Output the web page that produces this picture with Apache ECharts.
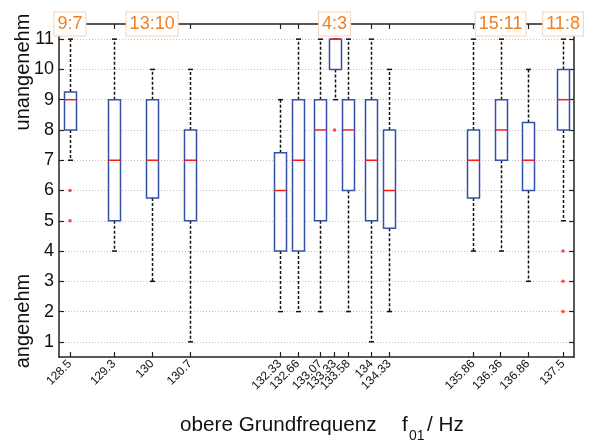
<!DOCTYPE html>
<html>
<head>
<meta charset="utf-8">
<script src="https://cdn.jsdelivr.net/npm/echarts@6/dist/echarts.min.js"></script>
<style>
  html, body { margin: 0; padding: 0; background: #fff; }
  #chart { width: 589px; height: 441px; }
</style>
</head>
<body>
<div id="chart"></div>
<script>
  // Werte
  var freqs = [128.5, 129.3, 130, 130.7, 132.33, 132.66, 133.07, 133.33, 133.58, 134, 134.33, 135.86, 136.36, 136.86, 137.5]
  var whiskerLow = [7, 4, 3, 1, 2, 2, 2, 9, 2, 1, 2, 4, 4, 3, 5]
  var q1 = [8, 5, 5.75, 5, 4, 4, 5, 10, 6, 5, 4.75, 5.75, 7, 6, 8]
  var median = [9, 7, 7, 7, 6, 7, 8, 11, 8, 7, 6, 7, 8, 7, 9]
  var q3 = [9.25, 9, 9, 8, 7.25, 9, 9, 11, 9, 9, 8, 8, 9, 8.25, 10]
  var whiskerHigh = [11, 11, 10, 10, 9, 11, 11, 11, 11, 11, 10, 11, 11, 10, 11]
  var outlierFreqs = [128.5, 128.5, 133.33, 137.5, 137.5, 137.5]
  var outlierValues = [6, 5, 8, 4, 3, 2]
  var ratioFreqs = [128.5, 130, 133.33, 136.36, 137.5]
  var ratioLabels = ['9:7', '13:10', '4:3', '15:11', '11:8']
  var yTicks = [1, 2, 3, 4, 5, 6, 7, 8, 9, 10, 11]

  var FONT = 'Liberation Sans, Arial, sans-serif'
  var Y_MIN = 0.5
  var Y_MAX = 11.5
  var BLUE = '#3352a8'
  var RED = '#ff1a1a'
  var ORANGE = '#f2801f'
  var AXIS = '#222'

  var boxData = freqs.map(function (f, i) {
    return [f, whiskerLow[i], q1[i], median[i], q3[i], whiskerHigh[i]]
  })
  var outlierData = outlierFreqs.map(function (f, i) { return [f, outlierValues[i]] })
  var ratioData = ratioFreqs.map(function (f, i) { return [f, ratioLabels[i]] })

  function renderBox (params, api) {
    var x = api.value(0)
    var lo = api.coord([x, api.value(1)])
    var b1 = api.coord([x, api.value(2)])
    var md = api.coord([x, api.value(3)])
    var b3 = api.coord([x, api.value(4)])
    var hi = api.coord([x, api.value(5)])
    var cx = Math.round(lo[0]) + 0.5
    var hw = 6
    var cw = 2.5
    var dash = { stroke: '#111', lineWidth: 1.5, lineDash: [3, 2], fill: null }
    var solid = { stroke: '#111', lineWidth: 1.5, fill: null }
    return {
      type: 'group',
      children: [
        { type: 'line', shape: { x1: cx, y1: b1[1], x2: cx, y2: lo[1] }, style: dash },
        { type: 'line', shape: { x1: cx, y1: b3[1], x2: cx, y2: hi[1] }, style: dash },
        { type: 'line', shape: { x1: cx - cw, y1: lo[1], x2: cx + cw, y2: lo[1] }, style: solid },
        { type: 'line', shape: { x1: cx - cw, y1: hi[1], x2: cx + cw, y2: hi[1] }, style: solid },
        {
          type: 'rect',
          shape: { x: cx - hw, y: b3[1], width: hw * 2, height: b1[1] - b3[1] },
          style: { fill: '#fff', stroke: BLUE, lineWidth: 1.5 }
        },
        { type: 'line', shape: { x1: cx - hw, y1: md[1], x2: cx + hw, y2: md[1] }, style: { stroke: RED, lineWidth: 1.5 } }
      ]
    }
  }

  function renderRatio (params, api) {
    var p = api.coord([api.value(0), Y_MAX])
    return {
      type: 'text',
      x: p[0],
      y: p[1],
      style: {
        text: ratioLabels[params.dataIndex],
        fill: ORANGE,
        font: '18px ' + FONT,
        align: 'center',
        verticalAlign: 'middle',
        backgroundColor: '#fff',
        borderColor: '#f8d2b4',
        borderWidth: 1,
        padding: [3, 3, 2, 3]
      }
    }
  }

  var chart = echarts.init(document.getElementById('chart'))
  var option = {
    animation: false,
    grid: { left: 59, right: 15, top: 24, bottom: 84, outerBoundsMode: 'none' },
    xAxis: [
      {
        type: 'value',
        min: 128.3,
        max: 137.7,
        position: 'bottom',
        axisLine: { show: true, onZero: false, lineStyle: { color: AXIS, width: 1.5 } },
        axisTick: { show: true, inside: true, length: 5, customValues: freqs, lineStyle: { color: AXIS, width: 1.2 } },
        axisLabel: {
          customValues: freqs,
          rotate: 45,
          margin: 5,
          fontSize: 12,
          fontFamily: FONT,
          color: '#111',
          formatter: function (v) { return String(v) }
        },
        splitLine: { show: false }
      },
      {
        type: 'value',
        min: 128.3,
        max: 137.7,
        position: 'top',
        axisLine: { show: true, onZero: false, lineStyle: { color: AXIS, width: 1.5 } },
        axisTick: { show: true, inside: true, length: 5, customValues: freqs, lineStyle: { color: AXIS, width: 1.2 } },
        axisLabel: { show: false },
        splitLine: { show: false }
      }
    ],
    yAxis: [
      {
        type: 'value',
        min: Y_MIN,
        max: Y_MAX,
        axisLine: { show: true, onZero: false, lineStyle: { color: AXIS, width: 1.5 } },
        axisTick: { show: true, inside: true, length: 5, customValues: yTicks, lineStyle: { color: AXIS, width: 1.2 } },
        axisLabel: { customValues: yTicks, margin: 5, fontSize: 18, fontFamily: FONT, color: '#111' },
        splitLine: { show: true, lineStyle: { color: '#c4c4c4', type: [1, 2], width: 1 } }
      },
      {
        type: 'value',
        min: Y_MIN,
        max: Y_MAX,
        position: 'right',
        axisLine: { show: true, onZero: false, lineStyle: { color: AXIS, width: 1.5 } },
        axisTick: { show: true, inside: true, length: 5, customValues: yTicks, lineStyle: { color: AXIS, width: 1.2 } },
        axisLabel: { show: false },
        splitLine: { show: false }
      }
    ],
    series: [
      {
        name: 'box',
        type: 'custom',
        clip: false,
        renderItem: renderBox,
        data: boxData,
        z: 3
      },
      {
        name: 'ausreisser',
        type: 'scatter',
        symbol: 'circle',
        symbolSize: 3.5,
        itemStyle: { color: RED },
        data: outlierData,
        z: 4
      },
      {
        name: 'verhaeltnis',
        type: 'custom',
        clip: false,
        renderItem: renderRatio,
        data: ratioData,
        z: 5
      }
    ],
    graphic: [
      {
        type: 'text', x: 23, y: 72, rotation: Math.PI / 2,
        style: { text: 'unangenehm', font: '20px ' + FONT, fill: '#111', align: 'center', verticalAlign: 'middle' }
      },
      {
        type: 'text', x: 23, y: 321, rotation: Math.PI / 2,
        style: { text: 'angenehm', font: '20px ' + FONT, fill: '#111', align: 'center', verticalAlign: 'middle' }
      },
      {
        type: 'text', x: 180, y: 425,
        style: { text: 'obere Grundfrequenz', font: '20.7px ' + FONT, fill: '#111', align: 'left', verticalAlign: 'middle' }
      },
      {
        type: 'text', x: 402, y: 425,
        style: { text: 'f', font: '20.7px ' + FONT, fill: '#111', align: 'left', verticalAlign: 'middle' }
      },
      {
        type: 'text', x: 409, y: 436,
        style: { text: '01', font: '14px ' + FONT, fill: '#111', align: 'left', verticalAlign: 'middle' }
      },
      {
        type: 'text', x: 427, y: 425,
        style: { text: '/ Hz', font: '20.7px ' + FONT, fill: '#111', align: 'left', verticalAlign: 'middle' }
      }
    ]
  }
  chart.setOption(option)
</script>
</body>
</html>
